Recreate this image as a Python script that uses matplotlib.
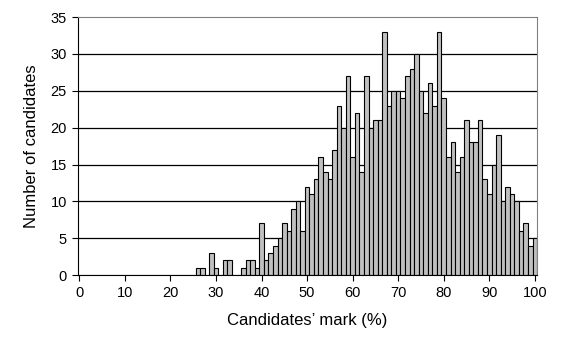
import matplotlib
matplotlib.use("Agg")
import matplotlib.pyplot as plt
import numpy as np

plt.rcParams['font.family'] = ['Liberation Sans', 'DejaVu Sans']

marks = np.arange(0, 101)
counts = [0] * 26 + [
    1, 1, 0, 3, 1, 0, 2, 2, 0, 0,        # 26-35
    1, 2, 2, 1, 7, 2, 3, 4, 5, 7,        # 36-45
    6, 9, 10, 6, 12, 11, 13, 16, 14, 13,  # 46-55
    17, 23, 20, 27, 16, 22, 14, 27, 20, 21,  # 56-65
    21, 33, 23, 25, 25, 24, 27, 28, 30, 25,  # 66-75
    22, 26, 23, 33, 24, 16, 18, 14, 16, 21,  # 76-85
    18, 18, 21, 13, 11, 15, 19, 10, 12, 11,  # 86-95
    10, 6, 7, 4, 5,                      # 96-100
]
xticks = list(range(0, 101, 10))
yticks = list(range(0, 36, 5))

fig = plt.figure(figsize=(5.63, 3.43), dpi=100)
ax = fig.add_axes([0.1386, 0.198, 0.8154, 0.752])

for y in yticks[1:-1]:
    ax.axhline(y, color='black', lw=0.9, zorder=0)

ax.bar(marks, counts, width=1.0, color='#c0c0c0', edgecolor='black', lw=0.8, zorder=2)

ax.set_xlim(-0.3, 100.5)
ax.set_ylim(0, 35)
ax.set_xticks(xticks)
ax.set_yticks(yticks)
ax.tick_params(labelsize=10.5, direction='out', length=4, color='black', pad=4)

for s in ['top', 'right']:
    ax.spines[s].set_color('#808080')
for s in ['left', 'bottom']:
    ax.spines[s].set_color('black')

ax.set_xlabel('Candidates’ mark (%)', fontsize=12, labelpad=9)
ax.set_ylabel('Number of candidates', fontsize=12, labelpad=8)

fig.savefig('out.png', dpi=100)
